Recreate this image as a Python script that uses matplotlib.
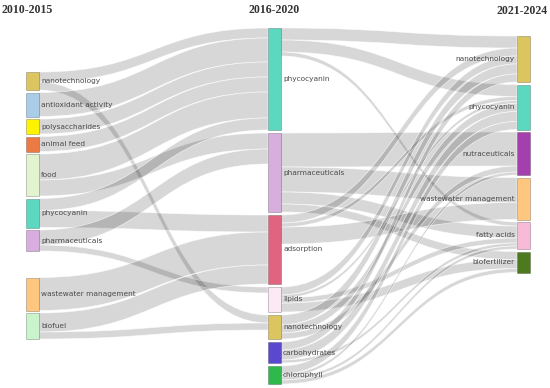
import matplotlib.pyplot as plt
from matplotlib.path import Path
from matplotlib.patches import PathPatch, Rectangle

periods = ['2010-2015', '2016-2020', '2021-2024']

left_nodes = ['nanotechnology', 'antioxidant activity', 'polysaccharides', 'animal feed', 'food',
              'phycocyanin', 'pharmaceuticals', 'wastewater management', 'biofuel']
mid_nodes = ['phycocyanin', 'pharmaceuticals', 'adsorption', 'lipids', 'nanotechnology',
             'carbohydrates', 'chlorophyll']
right_nodes = ['nanotechnology', 'phycocyanin', 'nutraceuticals', 'wastewater management',
               'fatty acids', 'biofertilizer']

left_colors = ['#dcc45e', '#a9cde9', '#fbf300', '#ec7a45', '#e2f3cf', '#5dd8c0', '#d7aede',
               '#fec67f', '#c9f4cc']
mid_colors = ['#5dd8c0', '#d7aede', '#e0647f', '#fde8f6', '#dcc45e', '#5a48cf', '#2fb84c']
right_colors = ['#dcc45e', '#5dd8c0', '#a43fae', '#fec67f', '#f8bbd7', '#4e7a1f']

# 2010-2015 -> 2016-2020
flows_1 = [
    ('nanotechnology', 'phycocyanin', 10),
    ('nanotechnology', 'nanotechnology', 8),
    ('antioxidant activity', 'phycocyanin', 24),
    ('polysaccharides', 'phycocyanin', 15),
    ('animal feed', 'phycocyanin', 15),
    ('food', 'phycocyanin', 26),
    ('food', 'pharmaceuticals', 16),
    ('phycocyanin', 'phycocyanin', 12),
    ('phycocyanin', 'adsorption', 17),
    ('pharmaceuticals', 'pharmaceuticals', 15),
    ('pharmaceuticals', 'lipids', 6),
    ('wastewater management', 'adsorption', 33),
    ('biofuel', 'adsorption', 19),
    ('biofuel', 'nanotechnology', 7),
]

# 2016-2020 -> 2021-2024
flows_2 = [
    ('phycocyanin', 'nanotechnology', 12),
    ('phycocyanin', 'phycocyanin', 12),
    ('phycocyanin', 'fatty acids', 4),
    ('pharmaceuticals', 'nutraceuticals', 34),
    ('pharmaceuticals', 'wastewater management', 25),
    ('pharmaceuticals', 'fatty acids', 12),
    ('pharmaceuticals', 'biofertilizer', 8),
    ('adsorption', 'wastewater management', 17),
    ('adsorption', 'nanotechnology', 8),
    ('adsorption', 'phycocyanin', 4),
    ('lipids', 'biofertilizer', 9),
    ('lipids', 'nanotechnology', 8),
    ('lipids', 'fatty acids', 5),
    ('lipids', 'phycocyanin', 3),
    ('nanotechnology', 'nanotechnology', 10),
    ('nanotechnology', 'phycocyanin', 8),
    ('nanotechnology', 'nutraceuticals', 6),
    ('carbohydrates', 'phycocyanin', 10),
    ('carbohydrates', 'nanotechnology', 8),
    ('carbohydrates', 'fatty acids', 3),
    ('chlorophyll', 'phycocyanin', 8),
    ('chlorophyll', 'nutraceuticals', 3),
    ('chlorophyll', 'fatty acids', 3),
    ('chlorophyll', 'biofertilizer', 4),
]

columns = [left_nodes, mid_nodes, right_nodes]
colors = [left_colors, mid_colors, right_colors]
stages = [flows_1, flows_2]

# layout (pixel space)
col_x = [26, 268, 517]
col_top = [72, 28, 36]
col_gap = [2.5, 3, 2.5]
extra_gap = {(0, 'wastewater management'): 24}
node_w = 12.5
scale = 1.0

fig = plt.figure(figsize=(5.5, 3.88), dpi=100)
ax = fig.add_axes([0, 0, 1, 1])
ax.set_xlim(0, 550)
ax.set_ylim(388, 0)
ax.axis('off')

# node sizes
size = {}
for c, names in enumerate(columns):
    for n in names:
        inflow = sum(v for s, t, v in stages[c - 1] if t == n) if c > 0 else 0
        outflow = sum(v for s, t, v in stages[c] if s == n) if c < 2 else 0
        size[(c, n)] = max(inflow, outflow) * scale

pos = {}
for c, names in enumerate(columns):
    y = col_top[c]
    for n in names:
        y += extra_gap.get((c, n), 0)
        pos[(c, n)] = (y, y + size[(c, n)])
        y += size[(c, n)] + col_gap[c]


def center(key):
    return sum(pos[key]) / 2


def band(x0, s0, s1, x1, t0, t1):
    xm = (x0 + x1) / 2
    verts = [(x0, s0), (xm, s0), (xm, t0), (x1, t0),
             (x1, t1), (xm, t1), (xm, s1), (x0, s1), (x0, s0)]
    codes = [Path.MOVETO, Path.CURVE4, Path.CURVE4, Path.CURVE4,
             Path.LINETO, Path.CURVE4, Path.CURVE4, Path.CURVE4, Path.CLOSEPOLY]
    return Path(verts, codes)


for c, flows in enumerate(stages):
    out_off = {n: pos[(c, n)][0] for n in columns[c]}
    in_off = {n: pos[(c + 1, n)][0] for n in columns[c + 1]}
    src_y, tgt_y = {}, {}
    for i, (s, t, v) in sorted(enumerate(flows), key=lambda e: (columns[c].index(e[1][0]), center((c + 1, e[1][1])))):
        src_y[i] = (out_off[s], out_off[s] + v * scale)
        out_off[s] += v * scale
    for i, (s, t, v) in sorted(enumerate(flows), key=lambda e: (columns[c + 1].index(e[1][1]), center((c, e[1][0])))):
        tgt_y[i] = (in_off[t], in_off[t] + v * scale)
        in_off[t] += v * scale
    for i in range(len(flows)):
        p = band(col_x[c] + node_w, src_y[i][0], src_y[i][1],
                 col_x[c + 1], tgt_y[i][0], tgt_y[i][1])
        ax.add_patch(PathPatch(p, facecolor=(0, 0, 0, 0.155), edgecolor=(1, 1, 1, 0.7),
                               lw=0.5, zorder=1))

for c, names in enumerate(columns):
    for n, col in zip(names, colors[c]):
        y0, y1 = pos[(c, n)]
        ax.add_patch(Rectangle((col_x[c], y0), node_w, y1 - y0, facecolor=col,
                               edgecolor=(0, 0, 0, 0.25), lw=0.6, zorder=2))
        if c < 2:
            ax.text(col_x[c] + node_w + 2.5, (y0 + y1) / 2, n, ha='left', va='center',
                    fontsize=5.3, color='#4a4a4a', zorder=3)
        else:
            ax.text(col_x[c] - 2.5, (y0 + y1) / 2, n, ha='right', va='center',
                    fontsize=5.3, color='#4a4a4a', zorder=3)

hdr = dict(fontsize=8.6, fontweight='bold', color='#333333', family='Liberation Serif', va='center')
ax.text(2, 10, periods[0], ha='left', **hdr)
ax.text(274, 10, periods[1], ha='center', **hdr)
ax.text(548, 11, periods[2], ha='right', **hdr)

plt.savefig('out.png', dpi=100)
